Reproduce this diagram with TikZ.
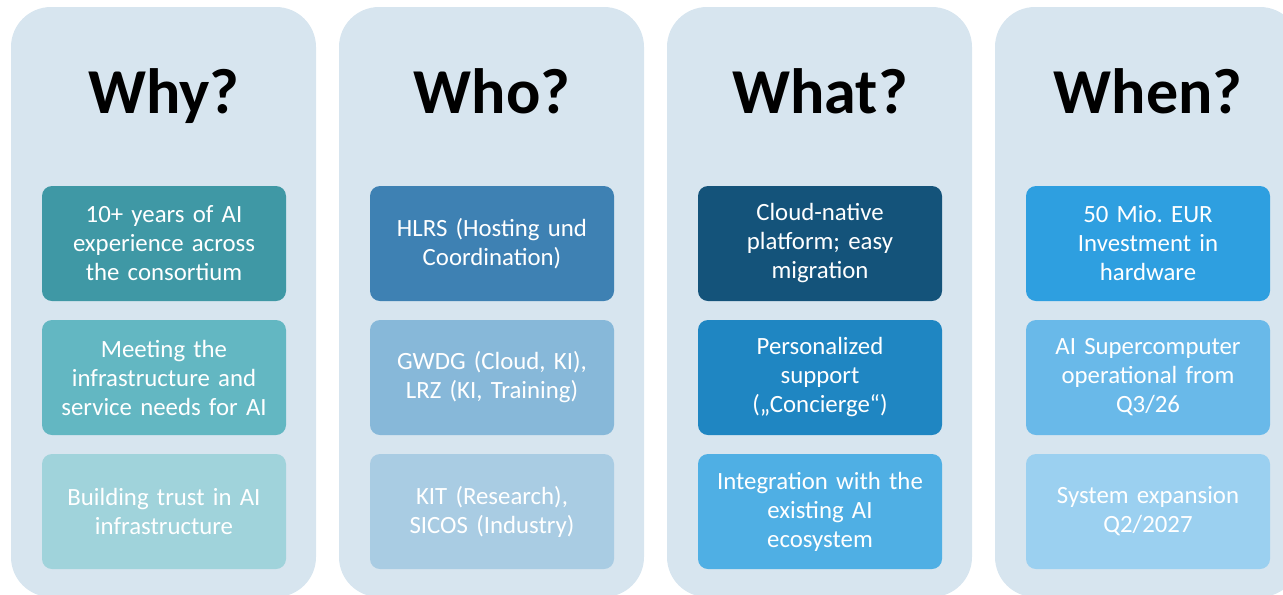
\documentclass[tikz,border=0pt]{standalone}
\usepackage{fontspec}
\setmainfont{Carlito}
\usetikzlibrary{positioning}
\frenchspacing

\definecolor{panelbg}{HTML}{D7E5EF}
\definecolor{whyA}{HTML}{3F98A5}
\definecolor{whyB}{HTML}{63B7C2}
\definecolor{whyC}{HTML}{A0D3DB}
\definecolor{whoA}{HTML}{3E81B3}
\definecolor{whoB}{HTML}{87B8D9}
\definecolor{whoC}{HTML}{A9CCE3}
\definecolor{whatA}{HTML}{14537A}
\definecolor{whatB}{HTML}{1F86C2}
\definecolor{whatC}{HTML}{4FAFE4}
\definecolor{whenA}{HTML}{2E9FE0}
\definecolor{whenB}{HTML}{69B9E9}
\definecolor{whenC}{HTML}{9BD0F0}

\tikzset{
  panel/.style={fill=panelbg, rounded corners=30pt},
  heading/.style={anchor=base, font=\fontsize{48}{58}\selectfont\bfseries},
  card/.style={rounded corners=7.5pt, minimum width=183pt, minimum height=86.25pt, text width=180pt, align=center, text=white, inner sep=0pt}
}

\begin{document}
\begin{tikzpicture}[x=0.75pt, y=-0.75pt, font=\fontsize{18.6}{21.75}\selectfont]
        \useasboundingbox (0,0) rectangle (1283,594);
        \clip (0,0) rectangle (1283,594);
        \foreach \i/\name in {0/Why?,1/Who?,2/What?,3/When?}{\path[panel] (11+328*\i,7) rectangle ++(305,590); \node[heading] (head\i) at (164+328*\i,113) {\name};}
        \foreach \i/\j/\col/\txt in {
            0/1/whyA/{10+ years of AI\\experience across\\the consortium},
            0/2/whyB/{Meeting the\\infrastructure and\\service needs for AI},
            0/3/whyC/{Building trust in AI\\infrastructure},
            1/1/whoA/{HLRS (Hosting und\\Coordination)},
            1/2/whoB/{GWDG (Cloud, KI),\\LRZ (KI, Training)},
            1/3/whoC/{KIT (Research),\\SICOS (Industry)},
            2/1/whatA/{Cloud-native\\platform; easy\\migration},
            2/2/whatB/{Personalized\\support\\(„Concierge“)},
            2/3/whatC/{Integration with the\\existing AI\\ecosystem},
            3/1/whenA/{50 Mio. EUR\\Investment in\\hardware},
            3/2/whenB/{AI Supercomputer\\operational from\\Q3/26},
            3/3/whenC/{System expansion\\Q2/2027}}{
            \node[card, fill=\col] (box\i\j) at (164+328*\i,109.5+134*\j) {\txt};}
\end{tikzpicture}
\end{document}
